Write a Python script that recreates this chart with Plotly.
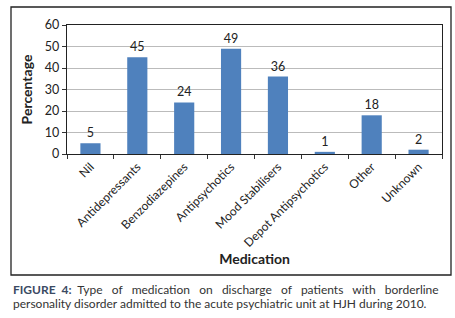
import plotly.graph_objects as go

categories = ["Nil", "Antidepressants", "Benzodiazepines", "Antipsychotics",
              "Mood Stabilisers", "Depot Antipsychotics", "Other", "Unknown"]
percentages = [5, 45, 24, 49, 36, 1, 18, 2]
y_ticks = [0, 10, 20, 30, 40, 50, 60]

W, H = 455, 318
L, R, T, B = 67, 13, 25, 164
pw, ph = W - L - R, H - T - B

def px(x):
    return (x - L) / pw

def py(y):
    return (H - B - y) / ph

font = "Lato, 'Open Sans', sans-serif"

fig = go.Figure(go.Bar(
    x=categories, y=percentages,
    marker=dict(color="#4F81BD", line=dict(width=0)),
    text=[str(v) for v in percentages], textposition="outside",
    textfont=dict(size=12.5, color="#222222", family=font),
    cliponaxis=False, width=0.43,
))

fig.update_layout(
    width=W, height=H,
    margin=dict(l=L, r=R, t=T, b=B, autoexpand=False),
    paper_bgcolor="white", plot_bgcolor="white",
    showlegend=False,
    font=dict(family=font, color="#222222", size=11),
    xaxis=dict(
        tickangle=-45, ticks="outside", tickson="boundaries", ticklen=4,
        tickcolor="#333", showline=True, linecolor="#222", linewidth=1.3,
        mirror=True, showgrid=False, tickfont=dict(size=12), automargin=False,
        title=dict(text="<b>Medication</b>", font=dict(size=14), standoff=3),
    ),
    yaxis=dict(
        range=[0, 60], tickvals=y_ticks, ticks="outside", ticklen=4,
        tickcolor="#333", showline=True, linecolor="#222", linewidth=1.3,
        mirror=True, showgrid=True, gridcolor="#BBBBBB", gridwidth=1,
        zeroline=False, tickfont=dict(size=12.5), automargin=False,
        title=dict(text="<b>Percentage</b>", font=dict(size=14), standoff=8),
    ),
    shapes=[dict(type="rect", xref="paper", yref="paper",
                 x0=px(11), x1=px(451), y0=py(275), y1=py(7),
                 line=dict(color="#222", width=1.3), layer="below")],
    annotations=[
        dict(xref="paper", yref="paper", x=px(11), y=py(289), xanchor="left",
             yanchor="middle", showarrow=False,
             text="<b style='color:#3b4a63'>FIGURE  4:</b>  Type   of   medication   on   discharge   of   patients   with   borderline",
             font=dict(size=12, color="#333333", family=font)),
        dict(xref="paper", yref="paper", x=px(11), y=py(303.5), xanchor="left",
             yanchor="middle", showarrow=False,
             text="personality disorder admitted to the acute psychiatric unit at HJH during 2010.",
             font=dict(size=12, color="#333333", family=font)),
    ],
)

fig.write_html("out.html", config={"displayModeBar": False},
               post_script="document.body.style.margin='0px';")
